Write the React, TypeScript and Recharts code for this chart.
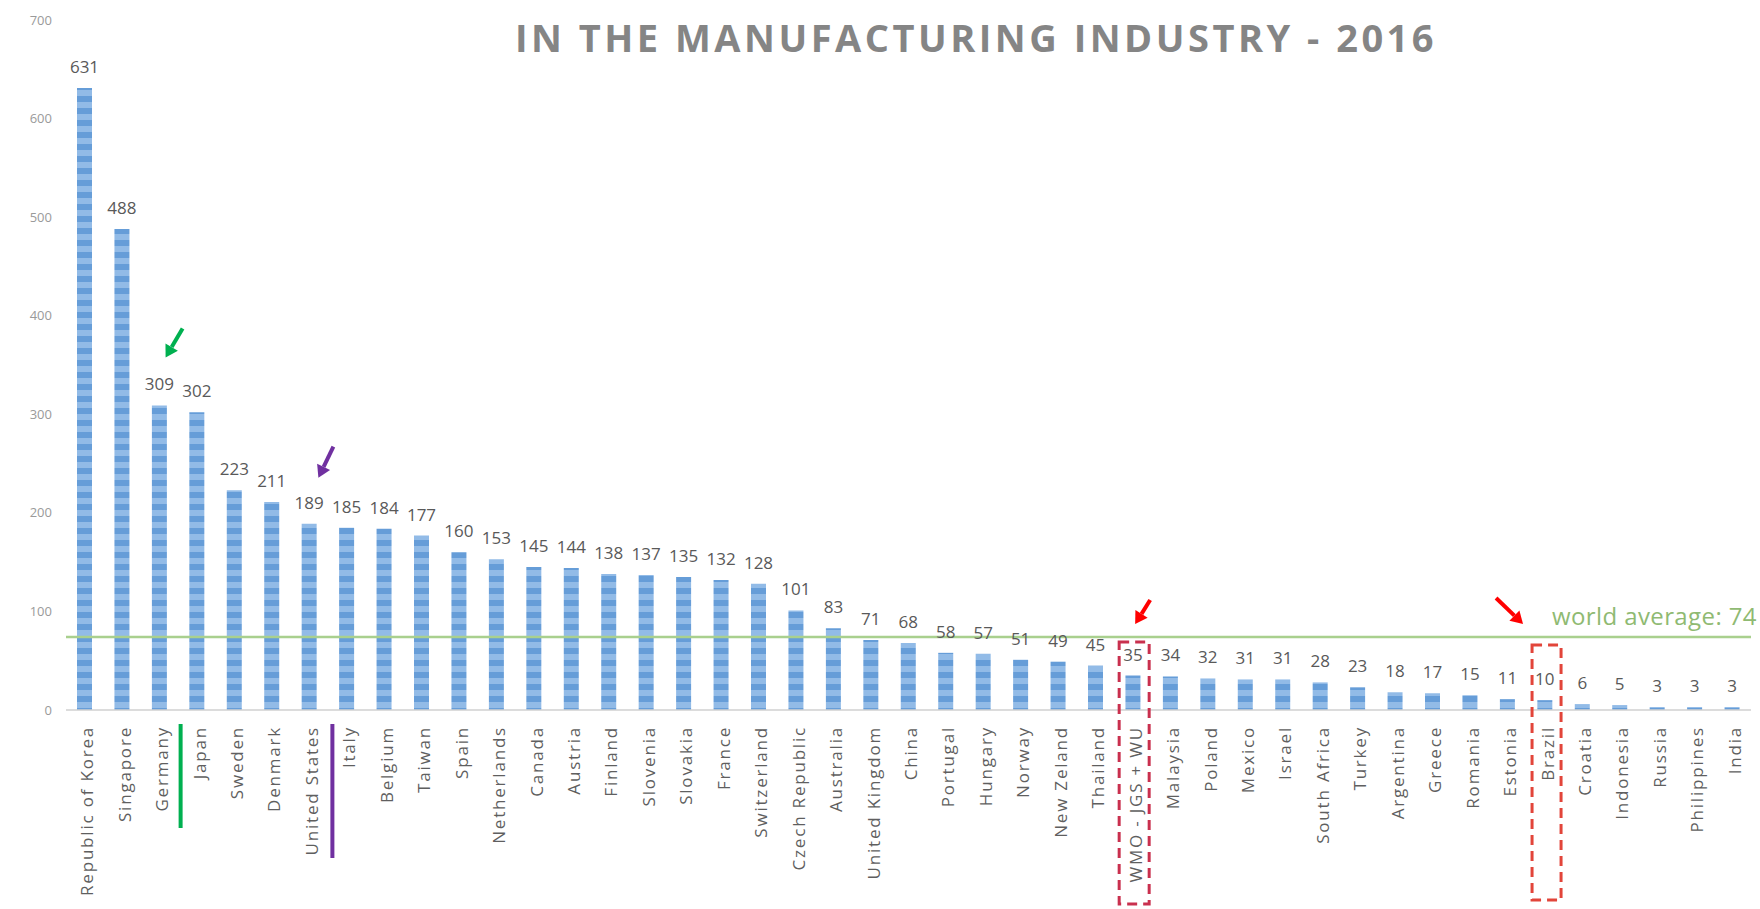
import React from "react";
import {
  BarChart,
  Bar,
  XAxis,
  YAxis,
  LabelList,
  ReferenceLine,
  ReferenceDot,
} from "recharts";

const countries = [
  "Republic of Korea", "Singapore", "Germany", "Japan", "Sweden", "Denmark",
  "United States", "Italy", "Belgium", "Taiwan", "Spain", "Netherlands",
  "Canada", "Austria", "Finland", "Slovenia", "Slovakia", "France",
  "Switzerland", "Czech Republic", "Australia", "United Kingdom", "China",
  "Portugal", "Hungary", "Norway", "New Zeland", "Thailand", "WMO - JGS + WU",
  "Malaysia", "Poland", "Mexico", "Israel", "South Africa", "Turkey",
  "Argentina", "Greece", "Romania", "Estonia", "Brazil", "Croatia",
  "Indonesia", "Russia", "Philippines", "India",
];

const robotsPer10k = [
  631, 488, 309, 302, 223, 211, 189, 185, 184, 177, 160, 153, 145, 144, 138,
  137, 135, 132, 128, 101, 83, 71, 68, 58, 57, 51, 49, 45, 35, 34, 32, 31, 31,
  28, 23, 18, 17, 15, 11, 10, 6, 5, 3, 3, 3,
];

const yTicks = [0, 100, 200, 300, 400, 500, 600, 700];
const worldAverage = 74;

const data = countries.map((country, i) => ({ country, value: robotsPer10k[i] }));

const FONT = "'Open Sans', 'Noto Sans', sans-serif";

function Arrow({ x1, y1, x2, y2, color }: { x1: number; y1: number; x2: number; y2: number; color: string }) {
  const head = 12;
  const len = Math.hypot(x2 - x1, y2 - y1);
  const ux = (x2 - x1) / len;
  const uy = (y2 - y1) / len;
  const bx = x2 - ux * head;
  const by = y2 - uy * head;
  const w = head * 0.6;
  return (
    <g>
      <line x1={x1} y1={y1} x2={bx} y2={by} stroke={color} strokeWidth={4} />
      <polygon
        points={`${x2},${y2} ${bx - uy * w},${by + ux * w} ${bx + uy * w},${by - ux * w}`}
        fill={color}
      />
    </g>
  );
}

const XTick = ({ x, y, payload }: any) => (
  <text
    transform={`translate(${x + 2},${y + 8}) rotate(-90)`}
    textAnchor="end"
    dominantBaseline="central"
    fontSize={17}
    letterSpacing={1.8}
    fontFamily={FONT}
    fill="#5F5F5F"
  >
    {payload.value}
  </text>
);

const AverageLabel = ({ viewBox }: any) => (
  <text
    x={viewBox.x + viewBox.width + 6}
    y={viewBox.y - 12}
    textAnchor="end"
    fontSize={24}
    letterSpacing={0.4}
    fontFamily={FONT}
    fill="#8FBA72"
  >
    world average: {worldAverage}
  </text>
);

export default function App() {
  return (
    <div style={{ position: "absolute", left: 0, top: 0, width: 1760, height: 909, background: "#fff" }}>
      <BarChart
        width={1760}
        height={909}
        data={data}
        margin={{ top: 20, right: 9, bottom: 0, left: 0 }}
        barCategoryGap={0}
      >
        <defs>
          <pattern id="stripes" width="4" height="12" patternUnits="userSpaceOnUse">
            <rect width="4" height="12" fill="#92BBE7" />
            <rect width="4" height="6" fill="#669DD8" />
          </pattern>
        </defs>
        <XAxis
          dataKey="country"
          interval={0}
          height={199}
          tickLine={false}
          axisLine={{ stroke: "#D0D0D0", strokeWidth: 1.5 }}
          tick={<XTick />}
        />
        <YAxis
          width={66}
          domain={[0, 700]}
          ticks={yTicks}
          axisLine={false}
          tickLine={false}
          tickMargin={8}
          tick={{ fill: "#9A9A9A", fontSize: 13, fontFamily: FONT }}
        />
        <ReferenceLine
          y={worldAverage}
          stroke="#A9D08E"
          strokeWidth={2.5}
          label={<AverageLabel />}
        />
        <Bar dataKey="value" fill="url(#stripes)" barSize={15} isAnimationActive={false}>
          <LabelList
            dataKey="value"
            position="top"
            offset={15}
            fill="#595959"
            fontSize={17}
            fontFamily={FONT}
          />
        </Bar>

        {/* annotations */}
        <ReferenceDot
          x="Germany"
          y={309}
          r={0}
          ifOverflow="visible"
          shape={(p: any) => <Arrow x1={p.cx + 23} y1={p.cy - 77} x2={p.cx + 6} y2={p.cy - 48} color="#00B050" />}
        />
        <ReferenceDot
          x="Germany"
          y={0}
          r={0}
          ifOverflow="visible"
          shape={(p: any) => (
            <line x1={p.cx + 21} x2={p.cx + 21} y1={p.cy + 14} y2={p.cy + 118} stroke="#00B050" strokeWidth={4} />
          )}
        />
        <ReferenceDot
          x="United States"
          y={189}
          r={0}
          ifOverflow="visible"
          shape={(p: any) => <Arrow x1={p.cx + 24} y1={p.cy - 77} x2={p.cx + 9} y2={p.cy - 46} color="#7030A0" />}
        />
        <ReferenceDot
          x="United States"
          y={0}
          r={0}
          ifOverflow="visible"
          shape={(p: any) => (
            <line x1={p.cx + 23} x2={p.cx + 23} y1={p.cy + 14} y2={p.cy + 148} stroke="#7030A0" strokeWidth={4} />
          )}
        />
        <ReferenceDot
          x="WMO - JGS + WU"
          y={0}
          r={0}
          ifOverflow="visible"
          shape={(p: any) => (
            <g>
              <rect x={p.cx - 14} y={p.cy - 68} width={30} height={262} fill="none" stroke="#C9304E" strokeWidth={3} strokeDasharray="10 6" />
              <Arrow x1={p.cx + 17} y1={p.cy - 110} x2={p.cx + 2} y2={p.cy - 86} color="#FF0000" />
            </g>
          )}
        />
        <ReferenceDot
          x="Brazil"
          y={0}
          r={0}
          ifOverflow="visible"
          shape={(p: any) => (
            <g>
              <rect x={p.cx - 13} y={p.cy - 65} width={29} height={255} fill="none" stroke="#E2453A" strokeWidth={3} strokeDasharray="10 6" />
              <Arrow x1={p.cx - 49} y1={p.cy - 112} x2={p.cx - 22} y2={p.cy - 86} color="#FF0000" />
            </g>
          )}
        />
      </BarChart>
      <svg width={1760} height={909} style={{ position: "absolute", left: 0, top: 0, pointerEvents: "none" }}>
        <text
          x={976}
          y={52}
          textAnchor="middle"
          fontSize={38}
          fontWeight={700}
          letterSpacing={3.5}
          fontFamily={FONT}
          fill="#858585"
        >
          IN THE MANUFACTURING INDUSTRY - 2016
        </text>
      </svg>
    </div>
  );
}
